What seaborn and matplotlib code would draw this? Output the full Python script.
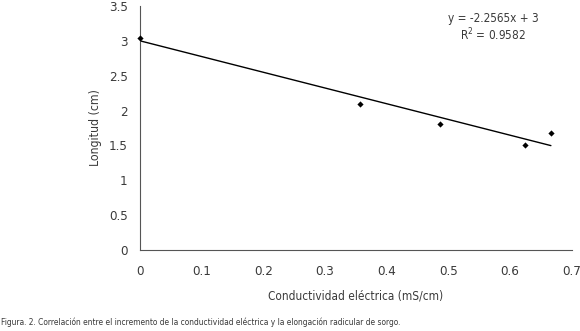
"""
Scatter of root length against electrical conductivity with a linear fit.
"""
import numpy as np
import pandas as pd
from matplotlib import pyplot as plt
import seaborn as sns

# Data
conductividad = [0.0, 0.356, 0.487, 0.624, 0.666]
longitud = [3.04, 2.09, 1.80, 1.51, 1.68]
pendiente = -2.2565
intercepto = 3.0
r2 = 0.9582
xticks = [0, 0.1, 0.2, 0.3, 0.4, 0.5, 0.6, 0.7]
yticks = [0, 0.5, 1, 1.5, 2, 2.5, 3, 3.5]

df = pd.DataFrame({"ce": conductividad, "long": longitud})
xs = np.array([min(conductividad), max(conductividad)])
fit = pd.DataFrame({"ce": xs, "long": pendiente * xs + intercepto})

sns.set_style("white")
plt.rcParams["font.family"] = ["DejaVu Sans"]
plt.rcParams["font.stretch"] = "condensed"
text_color = "#3a3a3a"
axis_color = "#555555"

fig, ax = plt.subplots(
    figsize=(5.8, 3.31),
    dpi=100,
    gridspec_kw=dict(left=0.2414, right=0.986, bottom=0.2447, top=0.982),
)

sns.lineplot(data=fit, x="ce", y="long", color="black", lw=1.0, ax=ax)
sns.scatterplot(
    data=df, x="ce", y="long", marker="D", s=10, color="black",
    edgecolor="black", linewidth=0, ax=ax, zorder=5, clip_on=False,
)

# Format
ax.set_xlim(0, 0.7)
ax.set_ylim(0, 3.5)
ax.set_xticks(xticks)
ax.set_yticks(yticks)
ax.set_xticklabels([f"{v:g}" for v in xticks])
ax.set_yticklabels([f"{v:g}" for v in yticks])
sns.despine(ax=ax)
for side in ["left", "bottom"]:
    ax.spines[side].set_color(axis_color)
    ax.spines[side].set_linewidth(0.8)
ax.tick_params(
    axis="both", direction="out", length=4, width=0.8, color=axis_color,
    labelsize=9.5, labelcolor=text_color, pad=5,
)
ax.tick_params(axis="x", pad=7)
ax.set_xlabel("Conductividad eléctrica (mS/cm)", fontsize=8.5, color=text_color, labelpad=8)
ax.set_ylabel("Longitud (cm)", fontsize=8.8, color=text_color, labelpad=5)

# Equation of the fit
ax.text(
    0.572, 3.19,
    f"y = {pendiente:.4f}x + {intercepto:g}\nR$^2$ = {r2:.4f}",
    ha="center", va="center", fontsize=8.5, color=text_color, linespacing=1.15,
)

# Caption
fig.text(
    0.002, 0.012,
    "Figura. 2. Correlación entre el incremento de la conductividad eléctrica y la elongación radicular de sorgo.",
    ha="left", va="bottom", fontsize=6, color=text_color,
)

plt.savefig("out.png", dpi=100)
